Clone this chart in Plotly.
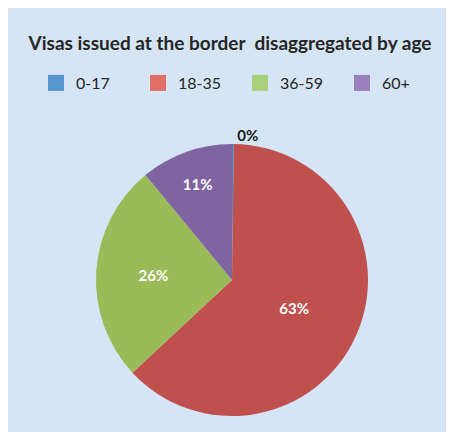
import plotly.graph_objects as go

labels = ["0-17", "18-35", "36-59", "60+"]
values = [0.2, 63, 26, 11]
colors = ["#4f81bd", "#c0504d", "#9bbb59", "#8064a2"]
legend_colors = ["#5596cf", "#e06f66", "#a9d17a", "#9a80bd"]
text_pos = ["outside", "inside", "inside", "inside"]
text_colors = ["#1a1a1a", "white", "white", "white"]

W, H = 454, 432
off = 8  # page body offset
cx, cy, r = 232 - off, 280 - off, 136

fig = go.Figure(go.Pie(
    labels=labels,
    values=values,
    sort=False,
    direction="clockwise",
    rotation=0,
    marker=dict(colors=colors, line=dict(width=0)),
    textinfo="percent",
    texttemplate="%{percent:.0%}",
    textposition=text_pos,
    insidetextorientation="horizontal",
    textfont=dict(family="Lato", size=15, color=text_colors, weight="bold"),
    outsidetextfont=dict(family="Lato", size=15, color="#1a1a1a", weight="bold"),
    domain=dict(x=[(cx - r) / W, (cx + r) / W],
                y=[1 - (cy + r) / H, 1 - (cy - r) / H]),
    automargin=False,
    showlegend=False,
    hoverinfo="label+percent",
))

# legend entries with larger square swatches
for lab, col in zip(labels, legend_colors):
    fig.add_trace(go.Scatter(x=[None], y=[None], mode="markers", name=lab,
                             marker=dict(symbol="square", size=22, color=col),
                             hoverinfo="skip", showlegend=True))

fig.update_layout(
    width=W, height=H,
    margin=dict(l=0, r=0, t=0, b=0),
    paper_bgcolor="#d5e5f5",
    plot_bgcolor="rgba(0,0,0,0)",
    xaxis=dict(visible=False),
    yaxis=dict(visible=False),
    title=dict(text="Visas issued at the border\u00a0 disaggregated by age",
               x=(230 - off) / W, xanchor="center", y=1 - (43 - off) / H, yanchor="middle",
               yref="container", xref="container",
               font=dict(family="Lato", size=19, color="#262626", weight="bold")),
    legend=dict(orientation="h", x=(36 - off) / W, xanchor="left",
                y=1 - (83 - off) / H, yanchor="middle",
                entrywidth=57, entrywidthmode="pixels", itemsizing="trace",
                font=dict(family="Lato", size=16, color="#262626"),
                bgcolor="rgba(0,0,0,0)", traceorder="normal"),
)

fig.write_html("out.html")
